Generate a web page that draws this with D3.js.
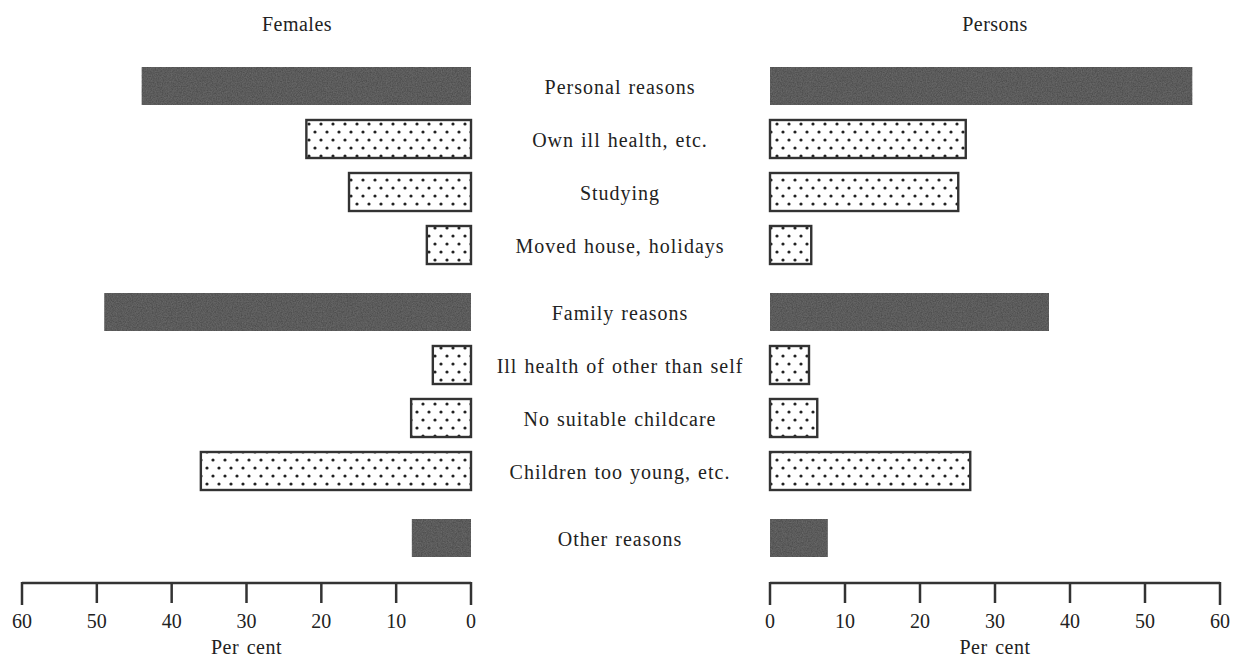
<!DOCTYPE html>
<html>
<head>
<meta charset="utf-8">
<script src="https://cdn.jsdelivr.net/npm/d3@7"></script>
<style>
  body { margin: 0; background: #fff; }
  text { font-family: "Liberation Serif", "DejaVu Serif", serif; fill: #222; }
</style>
</head>
<body>
<div id="chart"></div>
<script>
// categories, top to bottom
var categories = ["Personal reasons", "Own ill health, etc.", "Studying", "Moved house, holidays",
                  "Family reasons", "Ill health of other than self", "No suitable childcare",
                  "Children too young, etc.", "Other reasons"];
// solid = group totals, dotted = sub reasons
var kinds = ["solid", "dots", "dots", "dots", "solid", "dots", "dots", "dots", "solid"];
var females = [44, 22, 16.3, 5.9, 49, 5.1, 8, 36.1, 7.9];
var persons = [56.3, 26.1, 25.1, 5.5, 37.2, 5.2, 6.3, 26.7, 7.7];
var ticks = [0, 10, 20, 30, 40, 50, 60];

var width = 1241, height = 659;

var svg = d3.select("#chart").append("svg")
    .attr("width", width)
    .attr("height", height);

var defs = svg.append("defs");

// dot pattern for the sub reasons
var pat = defs.append("pattern")
    .attr("id", "dots")
    .attr("width", 12)
    .attr("height", 16)
    .attr("patternUnits", "userSpaceOnUse");
pat.append("rect").attr("width", 12).attr("height", 16).attr("fill", "#fff");
pat.append("circle").attr("cx", 3).attr("cy", 4).attr("r", 1.6).attr("fill", "#222");
pat.append("circle").attr("cx", 9).attr("cy", 12).attr("r", 1.6).attr("fill", "#222");

// grainy texture for the solid bars
var f = defs.append("filter").attr("id", "grain").attr("x", 0).attr("y", 0).attr("width", 1).attr("height", 1);
f.append("feTurbulence").attr("type", "fractalNoise").attr("baseFrequency", 0.8).attr("numOctaves", 2).attr("result", "n");
f.append("feColorMatrix").attr("in", "n").attr("type", "matrix")
    .attr("values", "0 0 0 0 0.15  0 0 0 0 0.15  0 0 0 0 0.15  0 0 0 -1.4 1.1").attr("result", "g");
f.append("feComposite").attr("in", "g").attr("in2", "SourceGraphic").attr("operator", "in").attr("result", "gc");
f.append("feMerge").selectAll("feMergeNode").data(["SourceGraphic", "gc"]).enter()
    .append("feMergeNode").attr("in", function(d) { return d; });

// scales
var y = d3.scaleBand().domain(categories).range([67, 529]).paddingInner(15 / 53).paddingOuter(0);
var xL = d3.scaleLinear().domain([0, 60]).range([471, 22]);
var xR = d3.scaleLinear().domain([0, 60]).range([770, 1220]);

// extra gap between the groups
function yPos(d, i) {
    var off = i >= 4 ? 14 : 0;
    if (i >= 8) off = 28;
    return y(d) + off;
}

function fillFor(k) { return k === "solid" ? "#505050" : "url(#dots)"; }

var rows = categories.map(function(c, i) {
    return {cat: c, kind: kinds[i], f: females[i], p: persons[i], i: i};
});

// female bars (to the left)
svg.append("g").selectAll("rect").data(rows).enter().append("rect")
    .attr("x", function(d) { return xL(d.f); })
    .attr("y", function(d) { return yPos(d.cat, d.i); })
    .attr("width", function(d) { return xL(0) - xL(d.f); })
    .attr("height", y.bandwidth())
    .attr("fill", function(d) { return fillFor(d.kind); })
    .attr("filter", function(d) { return d.kind === "solid" ? "url(#grain)" : null; })
    .attr("stroke", function(d) { return d.kind === "solid" ? "none" : "#333"; })
    .attr("stroke-width", 2.4);

// persons bars (to the right)
svg.append("g").selectAll("rect").data(rows).enter().append("rect")
    .attr("x", xR(0))
    .attr("y", function(d) { return yPos(d.cat, d.i); })
    .attr("width", function(d) { return xR(d.p) - xR(0); })
    .attr("height", y.bandwidth())
    .attr("fill", function(d) { return fillFor(d.kind); })
    .attr("filter", function(d) { return d.kind === "solid" ? "url(#grain)" : null; })
    .attr("stroke", function(d) { return d.kind === "solid" ? "none" : "#333"; })
    .attr("stroke-width", 2.4);

// category labels in the middle
svg.append("g").selectAll("text").data(rows).enter().append("text")
    .attr("x", 620)
    .attr("y", function(d) { return yPos(d.cat, d.i) + y.bandwidth() / 2; })
    .attr("dy", "0.4em")
    .attr("text-anchor", "middle")
    .style("font-size", "20px")
    .style("letter-spacing", "1px")
    .style("word-spacing", "1px")
    .text(function(d) { return d.cat; });

// titles
svg.append("text").attr("x", 297).attr("y", 31).attr("text-anchor", "middle")
    .style("font-size", "20px").style("letter-spacing", "0.5px").text("Females");
svg.append("text").attr("x", 995).attr("y", 31).attr("text-anchor", "middle")
    .style("font-size", "20px").style("letter-spacing", "0.5px").text("Persons");

// axes: line on top, ticks hanging down
function drawAxis(scale) {
    var g = svg.append("g").attr("transform", "translate(0,583)");
    var r = scale.range();
    g.append("line")
        .attr("x1", r[0]).attr("x2", r[1])
        .attr("stroke", "#333").attr("stroke-width", 2.5);
    g.selectAll(".tk").data(ticks).enter().append("line")
        .attr("class", "tk")
        .attr("x1", function(d) { return scale(d); })
        .attr("x2", function(d) { return scale(d); })
        .attr("y1", -1)
        .attr("y2", function(d) { return (d === 0 || d === 60) ? 22 : 20; })
        .attr("stroke", "#333").attr("stroke-width", 2.5);
    g.selectAll(".lb").data(ticks).enter().append("text")
        .attr("x", function(d) { return scale(d); })
        .attr("y", 45)
        .attr("text-anchor", "middle")
        .style("font-size", "20px")
        .text(function(d) { return d; });
    g.append("text")
        .attr("x", (r[0] + r[1]) / 2)
        .attr("y", 71)
        .attr("text-anchor", "middle")
        .style("font-size", "20px")
        .style("letter-spacing", "0.5px")
        .style("word-spacing", "2px")
        .text("Per cent");
}
drawAxis(xL);
drawAxis(xR);
</script>
</body>
</html>
